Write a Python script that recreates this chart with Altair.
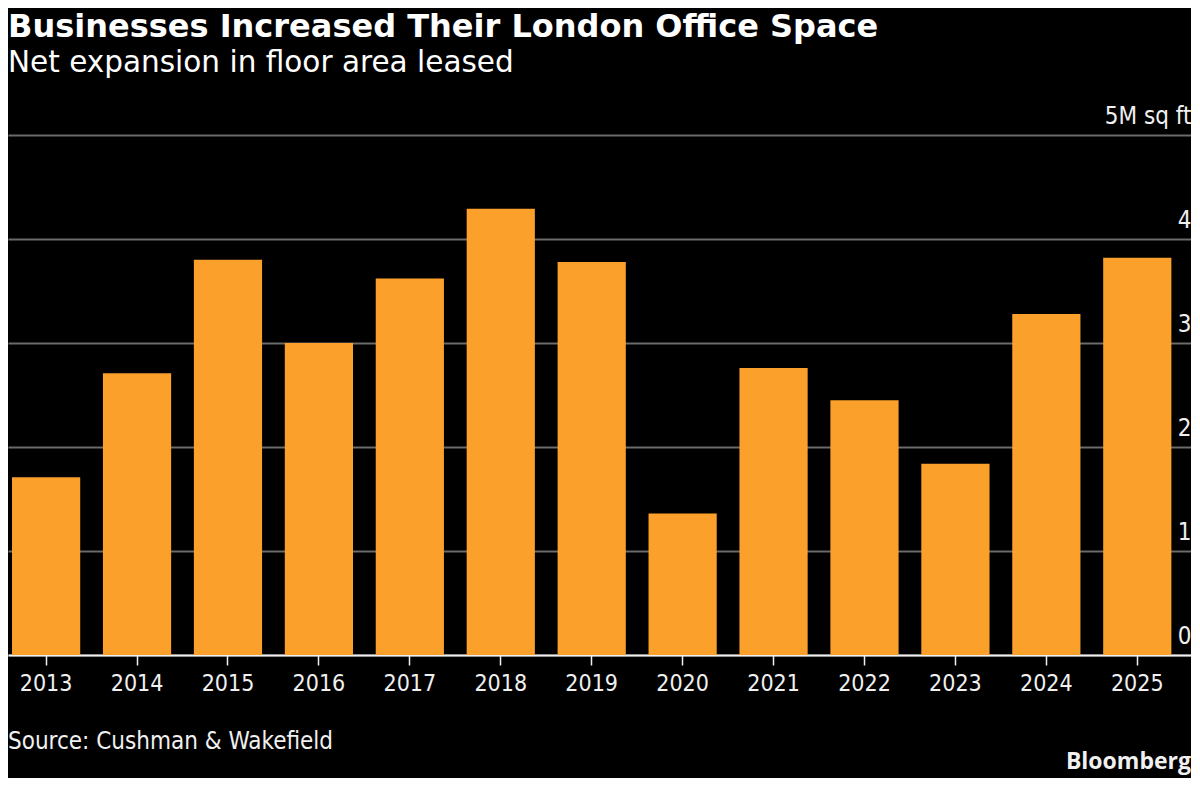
import altair as alt
import pandas as pd

years = ["2013", "2014", "2015", "2016", "2017", "2018", "2019",
         "2020", "2021", "2022", "2023", "2024", "2025"]
values = [1.71, 2.71, 3.80, 3.00, 3.62, 4.29, 3.78,
          1.36, 2.76, 2.45, 1.84, 3.28, 3.82]
y_ticks = [0, 1, 2, 3, 4, 5]

title_text = "Businesses Increased Their London Office Space"
subtitle_text = "Net expansion in floor area leased"
source_text = "Source: Cushman & Wakefield"
brand_text = "Bloomberg"

W = 1183
H = 520
FONT = "DejaVu Sans Condensed"
TFONT = "DejaVu Sans"

df = pd.DataFrame({"year": years, "value": values})

bars = alt.Chart(df).mark_bar(color="#fba12b").encode(
    x=alt.X(
        "year:N",
        sort=years,
        scale=alt.Scale(paddingInner=0.25, paddingOuter=0.13, align=0.17),
        axis=alt.Axis(
            title=None,
            labelAngle=0,
            labelFont=FONT,
            labelFontSize=23,
            labelColor="#f0f0f0",
            labelPadding=7,
            tickColor="#f0f0f0",
            tickSize=10,
            tickWidth=1.5,
            domainColor="#f0f0f0",
            domainWidth=2,
            grid=False,
        ),
    ),
    y=alt.Y(
        "value:Q",
        scale=alt.Scale(domain=[0, 5], nice=False),
        axis=alt.Axis(
            title=None,
            orient="right",
            values=y_ticks,
            labelExpr="datum.value == 5 ? '5M sq ft' : datum.label",
            labelFont=FONT,
            labelFontSize=24,
            labelColor="#f0f0f0",
            labelAlign="right",
            labelBaseline="alphabetic",
            labelOffset=-12,
            labelPadding=0,
            ticks=False,
            domain=False,
            grid=True,
            gridColor="#6b6b6b",
            gridWidth=2,
        ),
    ),
)

notes = pd.DataFrame({"t": [source_text]})
source = alt.Chart(notes).mark_text(
    align="left", baseline="middle", font=FONT, fontSize=24, color="#f0f0f0"
).encode(x=alt.value(0), y=alt.value(H + 87), text="t:N")

brand_df = pd.DataFrame({"t": [brand_text]})
brand = alt.Chart(brand_df).mark_text(
    align="right", baseline="alphabetic", font="Open Sans", fontWeight="bold",
    fontSize=23, color="#f0f0f0"
).encode(x=alt.value(W), y=alt.value(H + 114), text="t:N")

chart = alt.layer(bars, source, brand).properties(
    width=W,
    height=H,
    background="#000000",
    padding={"left": 0, "top": 2, "right": 0, "bottom": 4},
    title=alt.TitleParams(
        text=title_text,
        subtitle=subtitle_text,
        anchor="start",
        frame="group",
        font=TFONT,
        fontSize=32,
        fontWeight="bold",
        color="#ffffff",
        subtitleFont=TFONT,
        subtitleFontSize=29.5,
        subtitleColor="#ffffff",
        subtitlePadding=5,
        offset=26,
    ),
).configure_view(stroke=None)

chart.save("out.html", embed_options={"renderer": "svg", "actions": False})
